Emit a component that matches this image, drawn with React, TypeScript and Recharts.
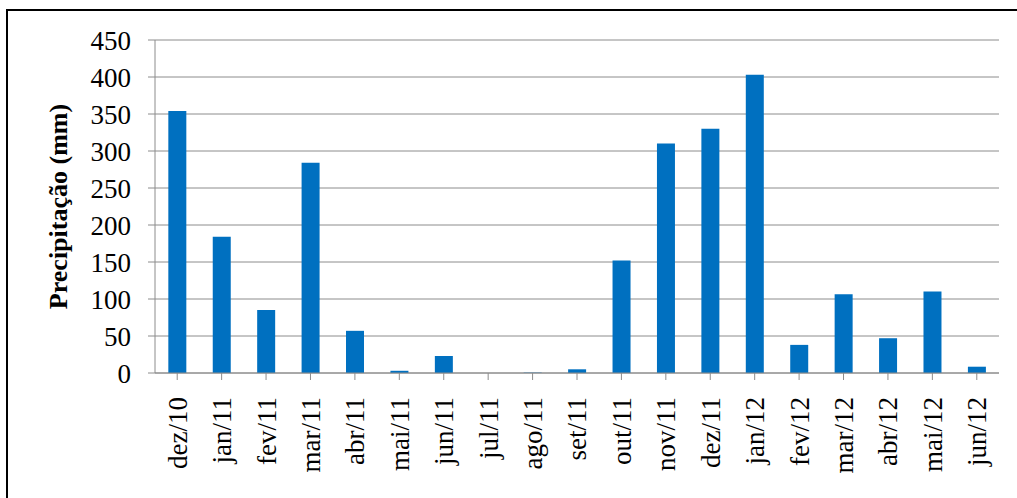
import React from 'react';
import { BarChart, Bar, XAxis, YAxis, CartesianGrid } from 'recharts';

// Monthly rainfall, Dec 2010 – Jun 2012
const months = [
  'dez/10', 'jan/11', 'fev/11', 'mar/11', 'abr/11', 'mai/11', 'jun/11', 'jul/11', 'ago/11', 'set/11',
  'out/11', 'nov/11', 'dez/11', 'jan/12', 'fev/12', 'mar/12', 'abr/12', 'mai/12', 'jun/12',
];
const precipitation = [
  354, 184, 85, 284, 57, 3, 23, 0, 0.5, 5,
  152, 310, 330, 403, 38, 106.5, 47, 110, 8.5,
];
const yTicks = [0, 50, 100, 150, 200, 250, 300, 350, 400, 450];
const yTitle = 'Precipitação (mm)';

const data = months.map((m, i) => ({ month: m, value: precipitation[i] }));

const FONT = '"Liberation Serif", "Times New Roman", serif';
const GRID = '#8c8c8c';

const MonthTick = (props: any) => {
  const { x, y, payload } = props;
  return (
    <g transform={`translate(${x},${y})`}>
      <text
        transform="rotate(-90)"
        textAnchor="end"
        dy="0.35em"
        fontFamily={FONT}
        fontSize={27}
        fill="#000"
      >
        {payload.value}
      </text>
    </g>
  );
};

// Vertical axis title, centred on the plot's height
const YTitle = (props: any) => {
  const { viewBox } = props;
  const cx = 58;
  const cy = viewBox.y + viewBox.height / 2;
  return (
    <text
      transform={`translate(${cx},${cy}) rotate(-90)`}
      textAnchor="middle"
      dy="0.35em"
      fontFamily={FONT}
      fontSize={26}
      fontWeight="bold"
      fill="#000"
    >
      {yTitle}
    </text>
  );
};

export default function App() {
  return (
    <div style={{ position: 'absolute', left: 0, top: 0, width: 1017, height: 498, background: '#fff', overflow: 'hidden' }}>
      <div
        style={{
          position: 'absolute',
          left: 6,
          top: 9,
          width: 1030,
          height: 520,
          borderLeft: '2px solid #000',
          borderTop: '2px solid #000',
          boxSizing: 'border-box',
        }}
      />
      <div style={{ position: 'absolute', left: 0, top: 0 }}>
        <BarChart
          width={1017}
          height={498}
          data={data}
          margin={{ top: 40, right: 18, left: 0, bottom: 0 }}
          barCategoryGap="30%"
        >
          <CartesianGrid vertical={false} stroke={GRID} strokeWidth={1} />
          <XAxis
            dataKey="month"
            interval={0}
            height={125}
            tickSize={7}
            tickMargin={17}
            stroke={GRID}
            tickLine={{ stroke: GRID }}
            axisLine={{ stroke: GRID }}
            tick={<MonthTick />}
          />
          <YAxis
            width={155}
            domain={[0, 450]}
            ticks={yTicks}
            interval={0}
            tickSize={7}
            tickMargin={17}
            stroke={GRID}
            tickLine={{ stroke: GRID }}
            axisLine={{ stroke: GRID }}
            tick={{ fill: '#000', fontFamily: FONT, fontSize: 27 }}
            label={<YTitle />}
          />
          <Bar dataKey="value" fill="#0070C0" isAnimationActive={false} />
        </BarChart>
      </div>
    </div>
  );
}
